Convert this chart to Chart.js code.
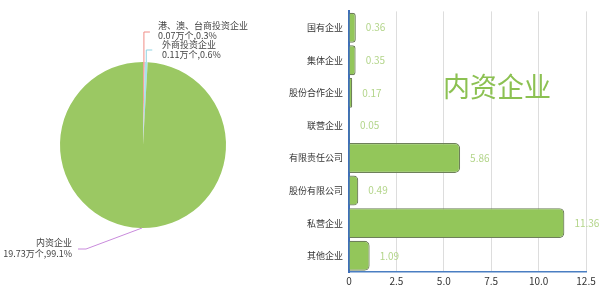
<!DOCTYPE html>
<html>
<head>
<meta charset="utf-8">
<script src="https://cdn.jsdelivr.net/npm/chart.js@4"></script>
<style>
  body { margin: 0; background: #fff; }
  #wrap { position: relative; width: 600px; height: 294px; }
  #pieBox { position: absolute; left: 0; top: 0; width: 300px; height: 294px; }
  #barBox { position: absolute; left: 280px; top: 0; width: 320px; height: 294px; }
</style>
</head>
<body>
<div id="wrap">
  <div id="pieBox"><canvas id="pie"></canvas></div>
  <div id="barBox"><canvas id="bar"></canvas></div>
</div>
<script>
const FONT = '"Noto Sans CJK SC", "Microsoft YaHei", sans-serif';

// pie: 企业类型
const pieLabels = ['港、澳、台商投资企业', '外商投资企业', '内资企业'];
const pieCounts = [0.07, 0.11, 19.73];
const pieShares = ['0.3%', '0.6%', '99.1%'];
const pieColors = ['#F4A29A', '#A9E1EC', '#9BC863'];

// bar: 内资企业构成 (万个)
const barLabels = ['国有企业', '集体企业', '股份合作企业', '联营企业', '有限责任公司', '股份有限公司', '私营企业', '其他企业'];
const barValues = [0.36, 0.35, 0.17, 0.05, 5.86, 0.49, 11.36, 1.09];

Chart.defaults.font.family = FONT;
Chart.defaults.animation = false;

// leader lines + labels for the pie
const pieCallouts = {
  id: 'pieCallouts',
  afterDraw(chart) {
    const ctx = chart.ctx;
    const arcs = chart.getDatasetMeta(0).data;
    const cx = arcs[0].x, cy = arcs[0].y, r = arcs[0].outerRadius;
    const edge = i => {
      const a = (arcs[i].startAngle + arcs[i].endAngle) / 2;
      return [cx + Math.cos(a) * r, cy + Math.sin(a) * r];
    };
    ctx.save();
    ctx.font = '9px ' + FONT;
    ctx.fillStyle = '#444';
    ctx.textBaseline = 'middle';
    ctx.lineWidth = 1;

    // 港澳台
    let p = edge(0);
    ctx.strokeStyle = '#F08C86';
    ctx.beginPath(); ctx.moveTo(p[0], p[1]); ctx.lineTo(p[0], 32); ctx.lineTo(p[0] + 6, 32); ctx.stroke();
    ctx.textAlign = 'left';
    ctx.fillText(pieLabels[0], 158, 26);
    ctx.fillText(pieCounts[0].toFixed(2) + '万个,' + pieShares[0], 158, 36);

    // 外商
    p = edge(1);
    ctx.strokeStyle = '#8FD3E3';
    ctx.beginPath(); ctx.moveTo(p[0], p[1]); ctx.lineTo(p[0], 50); ctx.lineTo(p[0] + 6, 50); ctx.stroke();
    ctx.fillText(pieLabels[1], 162, 45);
    ctx.fillText(pieCounts[1].toFixed(2) + '万个,' + pieShares[1], 162, 55);

    // 内资
    ctx.strokeStyle = '#C98BDC';
    ctx.beginPath(); ctx.moveTo(142, cy + r); ctx.lineTo(86, 249); ctx.lineTo(78, 249); ctx.stroke();
    ctx.textAlign = 'right';
    ctx.fillText(pieLabels[2], 72, 243);
    ctx.fillText(pieCounts[2].toFixed(2) + '万个,' + pieShares[2], 72, 254);
    ctx.restore();
  }
};

new Chart(document.getElementById('pie'), {
  type: 'pie',
  data: {
    labels: pieLabels,
    datasets: [{
      data: pieCounts,
      backgroundColor: pieColors,
      borderWidth: 0
    }]
  },
  options: {
    responsive: true,
    maintainAspectRatio: false,
    layout: { padding: { left: 60, right: 74, top: 62, bottom: 66 } },
    plugins: { legend: { display: false }, tooltip: { enabled: false } }
  },
  plugins: [pieCallouts]
});

// value labels and big title for the bar chart
const barExtras = {
  id: 'barExtras',
  afterDatasetsDraw(chart) {
    const ctx = chart.ctx;
    ctx.save();
    ctx.font = '10px ' + FONT;
    ctx.fillStyle = '#B3D58A';
    ctx.textAlign = 'left';
    ctx.textBaseline = 'middle';
    chart.getDatasetMeta(0).data.forEach((b, i) => {
      ctx.fillText(barValues[i].toFixed(2), b.x + 10, b.y);
    });
    ctx.font = '27px ' + FONT;
    ctx.fillStyle = '#8CC152';
    ctx.fillText('内资企业', 163, 87);
    ctx.restore();
  }
};

new Chart(document.getElementById('bar'), {
  type: 'bar',
  data: {
    labels: barLabels,
    datasets: [{
      data: barValues,
      backgroundColor: '#93C65A',
      borderColor: '#6E7F5A',
      borderWidth: 1.2,
      borderRadius: 5,
      borderSkipped: 'start',
      categoryPercentage: 0.92,
      barPercentage: 1
    }]
  },
  options: {
    indexAxis: 'y',
    responsive: true,
    maintainAspectRatio: false,
    layout: { padding: { left: 0, right: 14, top: 8, bottom: 0 } },
    plugins: { legend: { display: false }, tooltip: { enabled: false } },
    scales: {
      x: {
        min: 0, max: 12.5,
        ticks: { stepSize: 2.5, color: '#333', font: { size: 10 }, padding: 3,
          callback: v => v === 0 ? '0' : v.toFixed(1) },
        grid: { color: '#DDDDDD', drawTicks: false },
        border: { color: '#4A7EC2', width: 1.5 },
        afterFit: s => { s.height = 22; }
      },
      y: {
        ticks: { color: '#333', font: { size: 9 }, padding: 6 },
        grid: { display: false, drawTicks: false },
        border: { color: '#3F6FB8', width: 2 },
        afterFit: s => { s.width = 69; }
      }
    }
  },
  plugins: [barExtras]
});
</script>
</body>
</html>
